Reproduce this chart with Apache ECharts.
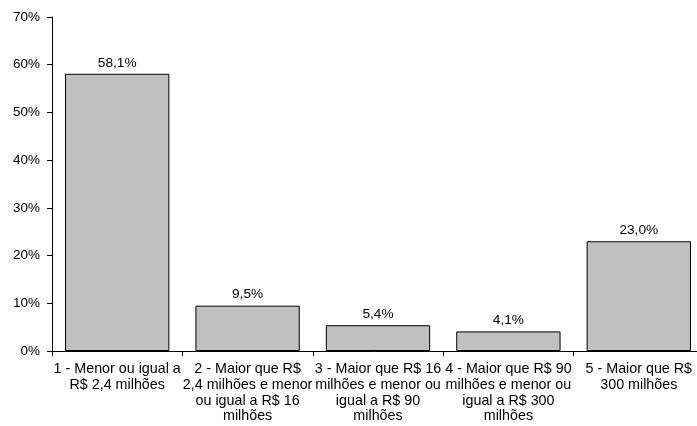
<!DOCTYPE html>
<html>
<head>
<meta charset="utf-8">
<script src="https://cdn.jsdelivr.net/npm/echarts@6/dist/echarts.min.js"></script>
<style>
  html, body { margin: 0; padding: 0; background: #fff; }
  #chart { width: 697px; height: 426px; }
</style>
</head>
<body>
<div id="chart"></div>
<script>
// Faixas de faturamento (rótulos do eixo X, com quebras de linha)
const categories = [
  '1 - Menor ou igual a\nR$ 2,4 milhões',
  '2 - Maior que R$\n2,4 milhões e menor\nou igual a R$ 16\nmilhões',
  '3 - Maior que R$ 16\nmilhões e menor ou\nigual a R$ 90\nmilhões',
  '4 - Maior que R$ 90\nmilhões e menor ou\nigual a R$ 300\nmilhões',
  '5 - Maior que R$\n300 milhões'
];
// Participação percentual de cada faixa
const shares = [58.1, 9.5, 5.4, 4.1, 23.0];
// Escala do eixo Y (%)
const yMin = 0, yMax = 70, yStep = 10;

const fmtPct = v => v.toFixed(1).replace('.', ',') + '%';
const font = '"Liberation Sans", Arial, sans-serif';

const chart = echarts.init(document.getElementById('chart'), null, { renderer: 'canvas' });
chart.setOption({
  animation: false,
  backgroundColor: '#ffffff',
  grid: {
    left: 52, right: -7, top: 17, bottom: 75,
    containLabel: false,
    outerBoundsMode: 'none'
  },
  xAxis: {
    type: 'category',
    data: categories,
    axisLine: { lineStyle: { color: '#000', width: 1 } },
    axisTick: { show: true, length: 5, alignWithLabel: false, lineStyle: { color: '#000' } },
    axisLabel: {
      interval: 0,
      color: '#000',
      fontFamily: font,
      fontSize: 14.3,
      lineHeight: 15.7,
      margin: 10.5,
      align: 'center'
    }
  },
  yAxis: {
    type: 'value',
    min: yMin, max: yMax, interval: yStep,
    axisLine: { show: true, lineStyle: { color: '#000', width: 1 } },
    axisTick: { show: true, length: 5, lineStyle: { color: '#000' } },
    splitLine: { show: false },
    axisLabel: {
      color: '#000',
      fontFamily: font,
      fontSize: 13.5,
      margin: 12,
      formatter: v => v + '%'
    }
  },
  series: [{
    type: 'bar',
    data: shares,
    barCategoryGap: '20%',
    itemStyle: { color: '#c0c0c0', borderColor: '#000', borderWidth: 1 },
    label: {
      show: true,
      position: 'top',
      distance: 4,
      color: '#000',
      fontFamily: font,
      fontSize: 13.7,
      formatter: p => fmtPct(p.value)
    }
  }]
});
</script>
</body>
</html>
